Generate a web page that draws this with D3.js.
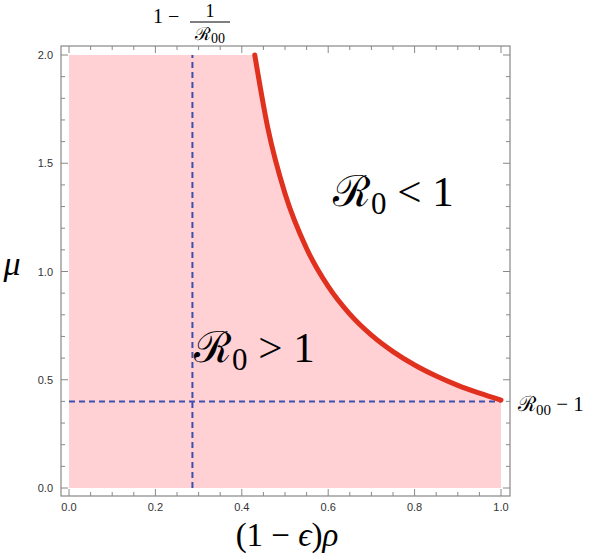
<!DOCTYPE html>
<html>
<head>
<meta charset="utf-8">
<script src="https://cdn.jsdelivr.net/npm/d3@7"></script>
<style>
  body { margin: 0; background: #fff; }
  .tick-label { font-family: "Liberation Sans", Arial, sans-serif; font-size: 11px; fill: #333; }
  .math { font-family: "Liberation Serif", "Times New Roman", serif; fill: #000; }
</style>
</head>
<body>
<script>
// R0 = 1 boundary
var curveX = [0.43, 0.46, 0.50, 0.55, 0.60, 0.65, 0.70, 0.75, 0.80, 0.85, 0.90, 0.95, 1.0];
var curveMu = [2.0, 1.665, 1.36, 1.106, 0.931, 0.803, 0.706, 0.630, 0.568, 0.517, 0.474, 0.438, 0.406];

var R00 = 1.4;
var xThreshold = 1 - 1 / R00;   // vertical dashed line
var muThreshold = R00 - 1;      // horizontal dashed line

var xMajor = [0, 0.2, 0.4, 0.6, 0.8, 1.0];
var yMajor = [0, 0.5, 1.0, 1.5, 2.0];

var width = 591, height = 559;

var svg = d3.select("body").append("svg")
    .attr("width", width)
    .attr("height", height);

var x = d3.scaleLinear().domain([0, 1]).range([69, 501]);
var y = d3.scaleLinear().domain([0, 2]).range([488, 55]);

// frame bounds (plot range is padded a little)
var fx0 = 61, fx1 = 510, fy0 = 46, fy1 = 496;

var line = d3.line()
    .x(function (d) { return x(d[0]); })
    .y(function (d) { return y(d[1]); });

var curvePts = curveX.map(function (cx, i) { return [cx, curveMu[i]]; });

// pink region R0 > 1
svg.append("path")
    .datum([[0, 0], [0, 2]].concat(curvePts).concat([[1, 0]]))
    .attr("fill", "#ffd1d5")
    .attr("d", line.curve(d3.curveMonotoneX));

// dashed threshold lines
svg.append("line")
    .attr("x1", x(xThreshold)).attr("x2", x(xThreshold))
    .attr("y1", y(0)).attr("y2", y(2))
    .attr("stroke", "#3a4fb0").attr("stroke-width", 2)
    .attr("stroke-dasharray", "6,4");

svg.append("line")
    .attr("x1", x(0)).attr("x2", x(1))
    .attr("y1", y(muThreshold)).attr("y2", y(muThreshold))
    .attr("stroke", "#3a4fb0").attr("stroke-width", 2)
    .attr("stroke-dasharray", "6,4");

// boundary curve
svg.append("path")
    .datum(curvePts)
    .attr("fill", "none")
    .attr("stroke", "#e0301e")
    .attr("stroke-width", 5)
    .attr("stroke-linecap", "round")
    .attr("d", line.curve(d3.curveMonotoneX));

// Frame
svg.append("rect")
    .attr("x", fx0).attr("y", fy0)
    .attr("width", fx1 - fx0).attr("height", fy1 - fy0)
    .attr("fill", "none").attr("stroke", "#888").attr("stroke-width", 1.2);

var xMinor = d3.range(0, 1.0001, 0.05);
var yMinor = d3.range(0, 2.0001, 0.1);

function isMajor(v, list) {
    return list.some(function (m) { return Math.abs(m - v) < 1e-6; });
}

var ticks = svg.append("g").attr("stroke", "#888").attr("stroke-width", 1);
xMinor.forEach(function (v) {
    var len = isMajor(v, xMajor) ? 7 : 4;
    ticks.append("line").attr("x1", x(v)).attr("x2", x(v)).attr("y1", fy1).attr("y2", fy1 - len);
    ticks.append("line").attr("x1", x(v)).attr("x2", x(v)).attr("y1", fy0).attr("y2", fy0 + len);
});
yMinor.forEach(function (v) {
    var len = isMajor(v, yMajor) ? 7 : 4;
    ticks.append("line").attr("y1", y(v)).attr("y2", y(v)).attr("x1", fx0).attr("x2", fx0 + len);
    ticks.append("line").attr("y1", y(v)).attr("y2", y(v)).attr("x1", fx1).attr("x2", fx1 - len);
});

svg.selectAll(".xlab").data(xMajor).enter().append("text")
    .attr("class", "tick-label")
    .attr("x", function (d) { return x(d); })
    .attr("y", 511)
    .attr("text-anchor", "middle")
    .text(function (d) { return d3.format(".1f")(d); });

svg.selectAll(".ylab").data(yMajor).enter().append("text")
    .attr("class", "tick-label")
    .attr("x", 53)
    .attr("y", function (d) { return y(d) + 4; })
    .attr("text-anchor", "end")
    .text(function (d) { return d3.format(".1f")(d); });

// Axis labels
svg.append("text").attr("class", "math")
    .attr("x", 287).attr("y", 546)
    .attr("text-anchor", "middle")
    .style("font-size", "33px")
    .html('(1 − <tspan font-style="italic">ϵ</tspan>)<tspan font-style="italic">ρ</tspan>');

svg.append("text").attr("class", "math")
    .attr("x", 12).attr("y", 275)
    .attr("text-anchor", "middle")
    .style("font-size", "34px").style("font-style", "italic")
    .text("μ");

// Region labels
function r0Label(px, py, op, size) {
    var t = svg.append("text").attr("class", "math")
        .attr("x", px).attr("y", py)
        .style("font-size", size + "px");
    t.append("tspan").text("ℛ");
    t.append("tspan").attr("dy", size * 0.18).style("font-size", (size * 0.72) + "px").text("0");
    t.append("tspan").attr("dy", -size * 0.18).text(" " + op + " 1");
}
r0Label(333, 206, "<", 43);
r0Label(194, 362, ">", 43);

// threshold labels
var r00 = svg.append("text").attr("class", "math")
    .attr("x", 518).attr("y", 411)
    .style("font-size", "21px");
r00.append("tspan").text("ℛ");
r00.append("tspan").attr("dy", 4).style("font-size", "15px").text("00");
r00.append("tspan").attr("dy", -4).text(" − 1");

var fracLabel = svg.append("g");
fracLabel.append("text").attr("class", "math")
    .attr("x", 153).attr("y", 23)
    .style("font-size", "20px")
    .text("1 −");
fracLabel.append("text").attr("class", "math")
    .attr("x", 210).attr("y", 17)
    .attr("text-anchor", "middle")
    .style("font-size", "18px")
    .text("1");
fracLabel.append("line")
    .attr("x1", 190).attr("x2", 230).attr("y1", 22).attr("y2", 22)
    .attr("stroke", "#000").attr("stroke-width", 1);
var den = fracLabel.append("text").attr("class", "math")
    .attr("x", 210).attr("y", 40)
    .attr("text-anchor", "middle")
    .style("font-size", "18px");
den.append("tspan").text("ℛ");
den.append("tspan").attr("dy", 3).style("font-size", "14px").text("00");
</script>
</body>
</html>
